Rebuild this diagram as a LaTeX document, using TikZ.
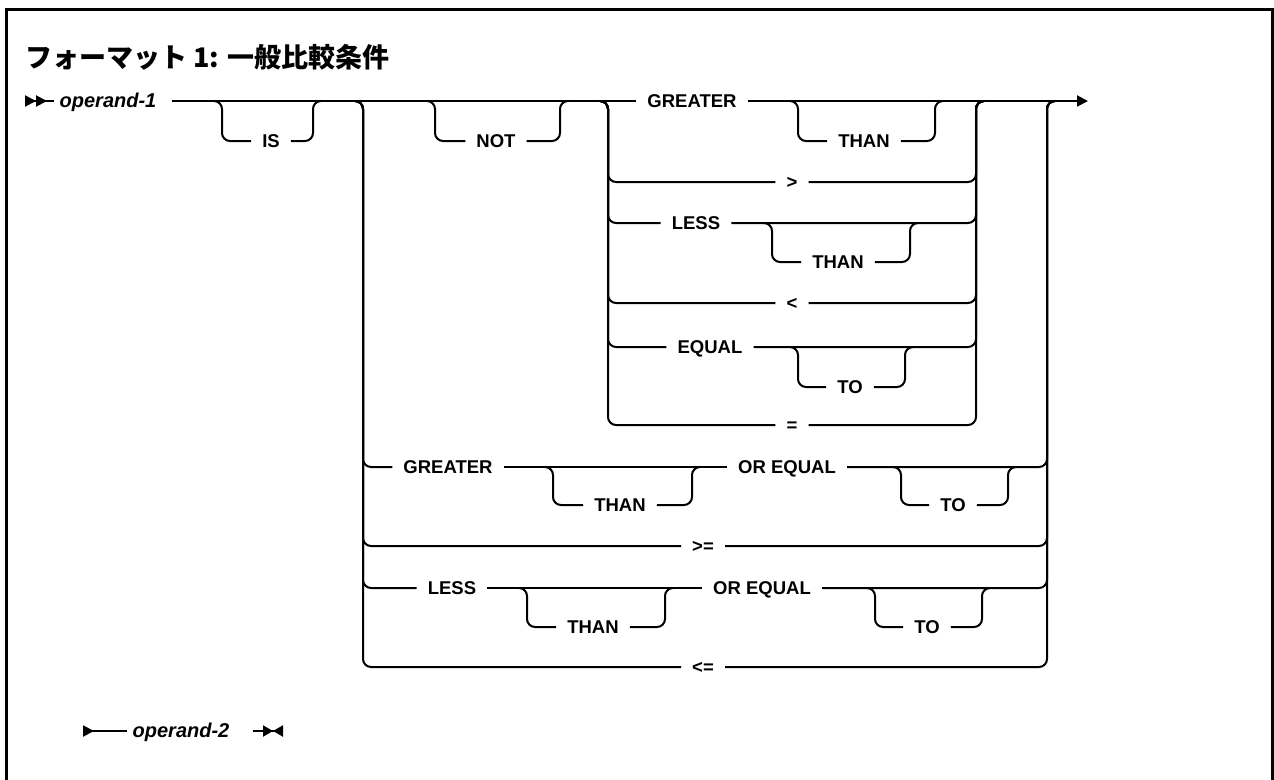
\documentclass[tikz,border=0pt]{standalone}
\usepackage{fontspec}
\setmainfont{Liberation Sans}
\newfontfamily\jpfont{Noto Sans CJK JP}
\usetikzlibrary{arrows.meta}

\tikzset{
  rail/.style={line width=2pt, rounded corners=8pt},
  kw/.style={font=\bfseries\fontsize{18.5}{20}\selectfont, inner xsep=11pt, inner ysep=0pt, text height=13.5pt, text depth=0pt},
  var/.style={kw, inner xsep=5pt, font=\bfseries\itshape\fontsize{20}{22}\selectfont},
  tri/.tip={Triangle[length=11pt,width=11pt]},
  rtri/.tip={Triangle[length=11pt,width=11pt,reversed]},
  stri/.tip={Triangle[length=10pt,width=11pt]},
  srtri/.tip={Triangle[length=10pt,width=11pt,reversed]},
}

\begin{document}
\begin{tikzpicture}[x=1pt,y=-1pt]
    \useasboundingbox (0,0) rectangle (1274,779);
    % frame, open at the bottom
    \draw[line width=3pt] (6,790) -- (6,9) -- (1272,9) -- (1272,790);
    \node[anchor=west, inner sep=0pt, font=\jpfont\bfseries\fontsize{27}{30}\selectfont] (title) at (25,57) {フォーマット 1: 一般比較条件};

    % keywords
    \node[var] (op1) at (108,101) {operand-1};
    \node[kw] (is) at (271,141) {IS};
    \node[kw] (not) at (496,141) {NOT};
    \node[kw] (gt1) at (692,101) {GREATER};
    \node[kw] (than1) at (864,141) {THAN};
    \node[kw] (gtsym) at (792,182) {>};
    \node[kw] (less1) at (696,223) {LESS};
    \node[kw] (than2) at (838,262) {THAN};
    \node[kw] (ltsym) at (792,303) {<};
    \node[kw] (equal) at (710,347) {EQUAL};
    \node[kw] (to1) at (850,387) {TO};
    \node[kw] (eqsym) at (792,425) {=};
    \node[kw] (gt2) at (448,467) {GREATER};
    \node[kw] (than3) at (620,505) {THAN};
    \node[kw] (oreq1) at (787,467) {OR EQUAL};
    \node[kw] (to2) at (953,505) {TO};
    \node[kw] (gesym) at (703,546) {>=};
    \node[kw] (less2) at (452,588) {LESS};
    \node[kw] (than4) at (593,627) {THAN};
    \node[kw] (oreq2) at (762,588) {OR EQUAL};
    \node[kw] (to3) at (927,627) {TO};
    \node[kw] (lesym) at (703,667) {<=};
    \node[var] (op2) at (181,731) {operand-2};

    % junctions on the rails
    \coordinate (beg) at (25,101);
    \coordinate (fin) at (1088,101);
    \coordinate (jA) at (363,101);
    \coordinate (jB) at (1047,101);
    \coordinate (jC) at (608,101);
    \coordinate (jD) at (976,101);
    \coordinate (is-l) at (222,101);   \coordinate (is-r) at (313,101);
    \coordinate (not-l) at (435,101);  \coordinate (not-r) at (560,101);
    \coordinate (than1-l) at (798,101); \coordinate (than1-r) at (935,101);
    \coordinate (than2-l) at (772,223); \coordinate (than2-r) at (910,223);
    \coordinate (to1-l) at (798,347);   \coordinate (to1-r) at (905,347);
    \coordinate (than3-l) at (553,467); \coordinate (than3-r) at (692,467);
    \coordinate (to2-l) at (901,467);   \coordinate (to2-r) at (1008,467);
    \coordinate (than4-l) at (527,588); \coordinate (than4-r) at (665,588);
    \coordinate (to3-l) at (875,588);   \coordinate (to3-r) at (982,588);
    \coordinate (beg2) at (83,731);
    \coordinate (fin2) at (283,731);

    % main line
    \draw[rail,{rtri[]rtri[]}-] (beg) -- (op1.west);
    \draw[rail] ([xshift=10pt]op1.east) -- (gt1.west);
    \draw[rail,-{tri[]}] (gt1.east) -- (fin);

    % optional keywords
    \draw[rail] ([xshift=-8pt]is-l) -- (is-l) |- (is.west);
    \draw[rail] (is.east) -| (is-r) -- ([xshift=8pt]is-r);
    \draw[rail] ([xshift=-8pt]not-l) -- (not-l) |- (not.west);
    \draw[rail] (not.east) -| (not-r) -- ([xshift=8pt]not-r);
    \draw[rail] ([xshift=-8pt]than1-l) -- (than1-l) |- (than1.west);
    \draw[rail] (than1.east) -| (than1-r) -- ([xshift=8pt]than1-r);
    \draw[rail] ([xshift=-8pt]than2-l) -- (than2-l) |- (than2.west);
    \draw[rail] (than2.east) -| (than2-r) -- ([xshift=8pt]than2-r);
    \draw[rail] ([xshift=-8pt]to1-l) -- (to1-l) |- (to1.west);
    \draw[rail] (to1.east) -| (to1-r) -- ([xshift=8pt]to1-r);
    \draw[rail] ([xshift=-8pt]than3-l) -- (than3-l) |- (than3.west);
    \draw[rail] (than3.east) -| (than3-r) -- ([xshift=8pt]than3-r);
    \draw[rail] ([xshift=-8pt]to2-l) -- (to2-l) |- (to2.west);
    \draw[rail] (to2.east) -| (to2-r) -- ([xshift=8pt]to2-r);
    \draw[rail] ([xshift=-8pt]than4-l) -- (than4-l) |- (than4.west);
    \draw[rail] (than4.east) -| (than4-r) -- ([xshift=8pt]than4-r);
    \draw[rail] ([xshift=-8pt]to3-l) -- (to3-l) |- (to3.west);
    \draw[rail] (to3.east) -| (to3-r) -- ([xshift=8pt]to3-r);

    % inner choice
    \draw[rail] ([xshift=-8pt]jC) -- (jC) |- (gtsym.west);
    \draw[rail] (gtsym.east) -| (jD) -- ([xshift=8pt]jD);
    \draw[rail] ([xshift=-8pt]jC) -- (jC) |- (less1.west);
    \draw[rail] (less1.east) -| (jD) -- ([xshift=8pt]jD);
    \draw[rail] ([xshift=-8pt]jC) -- (jC) |- (ltsym.west);
    \draw[rail] (ltsym.east) -| (jD) -- ([xshift=8pt]jD);
    \draw[rail] ([xshift=-8pt]jC) -- (jC) |- (equal.west);
    \draw[rail] (equal.east) -| (jD) -- ([xshift=8pt]jD);
    \draw[rail] ([xshift=-8pt]jC) -- (jC) |- (eqsym.west);
    \draw[rail] (eqsym.east) -| (jD) -- ([xshift=8pt]jD);

    % outer choice
    \draw[rail] ([xshift=-8pt]jA) -- (jA) |- (gt2.west);
    \draw[rail] (gt2.east) -- (oreq1.west);
    \draw[rail] (oreq1.east) -| (jB) -- ([xshift=8pt]jB);
    \draw[rail] ([xshift=-8pt]jA) -- (jA) |- (gesym.west);
    \draw[rail] (gesym.east) -| (jB) -- ([xshift=8pt]jB);
    \draw[rail] ([xshift=-8pt]jA) -- (jA) |- (less2.west);
    \draw[rail] (less2.east) -- (oreq2.west);
    \draw[rail] (oreq2.east) -| (jB) -- ([xshift=8pt]jB);
    \draw[rail] ([xshift=-8pt]jA) -- (jA) |- (lesym.west);
    \draw[rail] (lesym.east) -| (jB) -- ([xshift=8pt]jB);

    % second operand
    \draw[rail,{rtri[]}-] (beg2) -- (op2.west);
    \draw[rail,-{stri[]srtri[]}] ([xshift=18pt]op2.east) -- (fin2);
\end{tikzpicture}
\end{document}
